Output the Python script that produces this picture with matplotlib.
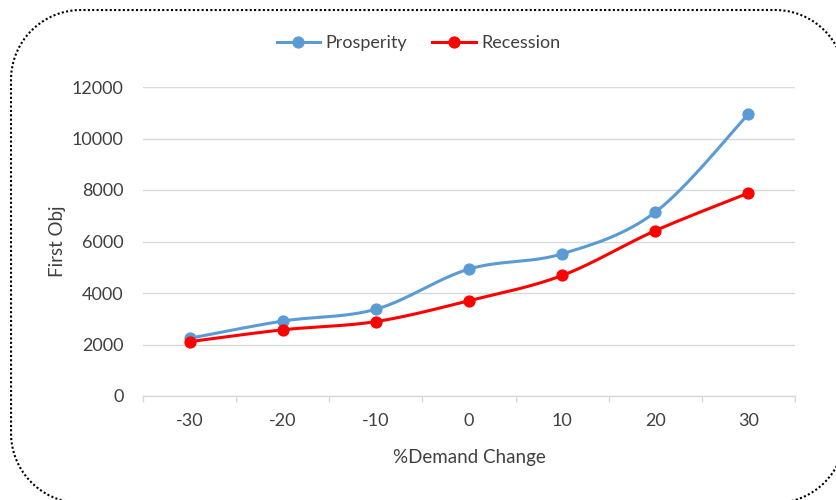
import numpy as np
import matplotlib
matplotlib.use("Agg")
import matplotlib.pyplot as plt
from matplotlib.lines import Line2D
from matplotlib.transforms import Affine2D

categories = ["-30", "-20", "-10", "0", "10", "20", "30"]
prosperity = [2240, 2910, 3370, 4930, 5520, 7140, 10950]
recession = [2110, 2570, 2890, 3700, 4680, 6420, 7880]
y_ticks = [0, 2000, 4000, 6000, 8000, 10000, 12000]

BLUE = "#5B9BD5"
RED = "#FF0000"
GRID = "#D9D9D9"
TEXT = "#404040"

plt.rcParams["font.family"] = ["Lato", "DejaVu Sans"]


def smooth(xs, ys, steps=40):
    """Bezier smoothing through every point (Catmull-Rom style, tension 1/6)."""
    pts = np.column_stack([xs, ys]).astype(float)
    n = len(pts)
    out = []
    for i in range(n - 1):
        p0 = pts[max(i - 1, 0)]
        p1 = pts[i]
        p2 = pts[i + 1]
        p3 = pts[min(i + 2, n - 1)]
        c1 = p1 + (p2 - p0) / 6.0
        c2 = p2 - (p3 - p1) / 6.0
        t = np.linspace(0, 1, steps)[:, None]
        seg = ((1 - t) ** 3) * p1 + 3 * ((1 - t) ** 2) * t * c1 + 3 * (1 - t) * t ** 2 * c2 + t ** 3 * p2
        out.append(seg if i == 0 else seg[1:])
    seg = np.vstack(out)
    return seg[:, 0], seg[:, 1]


def rounded_rect(x0, y0, x1, y1, r, n=40):
    """Closed outline of a rounded rectangle (pixel units, origin bottom-left)."""
    xs, ys = [], []
    corners = [
        (x1 - r, y1 - r, 0, 90),
        (x0 + r, y1 - r, 90, 180),
        (x0 + r, y0 + r, 180, 270),
        (x1 - r, y0 + r, 270, 360),
    ]
    for cx, cy, a0, a1 in corners:
        a = np.radians(np.linspace(a0, a1, n))
        xs.extend(cx + r * np.cos(a))
        ys.extend(cy + r * np.sin(a))
    xs.append(xs[0])
    ys.append(ys[0])
    return np.array(xs), np.array(ys)


fig = plt.figure(figsize=(8.37, 5.0), dpi=100)
ax = fig.add_axes([143 / 837, 1 - 396 / 500, (795 - 143) / 837, (396 - 87) / 500])

x = np.arange(len(categories))
for vals, col in [(prosperity, BLUE), (recession, RED)]:
    sx, sy = smooth(x, vals)
    ax.plot(sx, sy, color=col, lw=2.2, solid_capstyle="round", zorder=3)
    ax.plot(x, vals, "o", color=col, ms=7.8, zorder=4)

ax.set_xlim(-0.5, len(categories) - 0.5)
ax.set_ylim(0, 12000)
ax.set_yticks(y_ticks)
ax.set_yticklabels([str(v) for v in y_ticks])
ax.set_xticks(x)
ax.set_xticklabels(categories)
ax.set_xticks(np.arange(-0.5, len(categories), 1.0), minor=True)

ax.grid(axis="y", color=GRID, lw=1.0, zorder=0)
for side in ["top", "right", "left"]:
    ax.spines[side].set_visible(False)
ax.spines["bottom"].set_color(GRID)
ax.spines["bottom"].set_linewidth(1.0)

ax.tick_params(axis="y", length=0, pad=14, labelsize=13, labelcolor=TEXT)
ax.tick_params(axis="x", which="major", length=0, pad=12, labelsize=13, labelcolor=TEXT)
ax.tick_params(axis="x", which="minor", length=4.5, width=1.0, color=GRID, direction="out")

ax.set_ylabel("First Obj", fontsize=13.5, color=TEXT, labelpad=4)
ax.set_xlabel("%Demand Change", fontsize=13.5, color=TEXT, labelpad=15)

handles = [
    Line2D([], [], color=BLUE, lw=2.2, marker="o", ms=7.8),
    Line2D([], [], color=RED, lw=2.2, marker="o", ms=7.8),
]
fig.legend(handles, ["Prosperity", "Recession"], loc="center",
           bbox_to_anchor=(0.5, 1 - 43 / 500), ncol=2, frameon=False,
           fontsize=13, labelcolor=TEXT, handlelength=2.4,
           handletextpad=0.3, columnspacing=1.4)

# dotted rounded frame around the chart area, in pixel units
px = Affine2D().scale(1 / fig.dpi) + fig.dpi_scale_trans
bx, by = rounded_rect(11, 500 - 503, 845, 500 - 10, 70)
frame = Line2D(bx, by, transform=px, color="black", lw=1.5,
               linestyle=(0, (1, 1.1)), dash_capstyle="butt", clip_on=False)
fig.lines.append(frame)

fig.savefig("out.png", dpi=100)
